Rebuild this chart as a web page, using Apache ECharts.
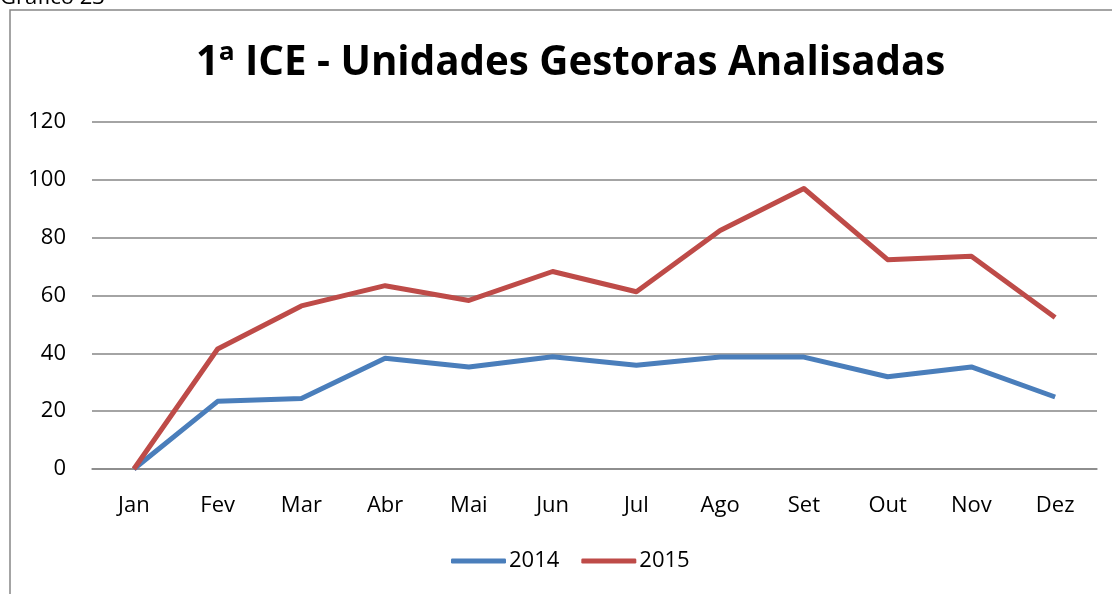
<!DOCTYPE html>
<html>
<head>
<meta charset="utf-8">
<script src="https://cdn.jsdelivr.net/npm/echarts@6/dist/echarts.min.js"></script>
<style>
  html, body { margin: 0; padding: 0; background: #fff; }
  #chart { width: 1112px; height: 594px; }
</style>
</head>
<body>
<div id="chart"></div>
<script>
// dados
var meses = ["Jan", "Fev", "Mar", "Abr", "Mai", "Jun", "Jul", "Ago", "Set", "Out", "Nov", "Dez"];
var valores2014 = [0, 23.4, 24.4, 38.3, 35.3, 38.8, 35.9, 38.7, 38.7, 31.9, 35.3, 24.9];
var valores2015 = [0, 41.5, 56.4, 63.4, 58.3, 68.3, 61.3, 82.5, 97, 72.4, 73.6, 52.4];
var ticksY = [0, 20, 40, 60, 80, 100, 120];

var fonte = "'Open Sans', 'Noto Sans', sans-serif";

var myChart = echarts.init(document.getElementById("chart"));
myChart.setOption({
  animation: false,
  color: ["#4A7EBB", "#BE4B48"],
  title: {
    text: "1ª ICE - Unidades Gestoras Analisadas",
    left: 191,
    top: 39,
    textStyle: { fontFamily: fonte, fontSize: 40.3, fontWeight: "bold", color: "#000" }
  },
  graphic: [
    {
      // borda da área do gráfico (sai pela direita e por baixo)
      type: "rect",
      shape: { x: 10, y: 10, width: 1120, height: 600 },
      style: { fill: "none", stroke: "#868686", lineWidth: 1.5 },
      silent: true
    },
    {
      type: "text",
      left: 0,
      top: -13,
      style: { text: "Gráfico 23", fontFamily: fonte, fontSize: 22, fill: "#000" }
    }
  ],
  legend: {
    bottom: 17,
    left: 446,
    icon: "roundRect",
    itemWidth: 55,
    itemHeight: 5,
    itemGap: 22,
    textStyle: { fontFamily: fonte, fontSize: 22, color: "#000", padding: [0, 0, 0, -2] },
    data: ["2014", "2015"]
  },
  grid: { left: 92, right: 15, top: 122, bottom: 125 },
  xAxis: {
    type: "category",
    data: meses,
    boundaryGap: true,
    axisTick: { show: false },
    axisLine: { lineStyle: { color: "#868686", width: 1.5 } },
    axisLabel: { fontFamily: fonte, fontSize: 22, color: "#000", margin: 26 }
  },
  yAxis: {
    type: "value",
    min: ticksY[0],
    max: ticksY[ticksY.length - 1],
    interval: 20,
    axisLine: { show: false },
    axisTick: { show: false },
    splitLine: { lineStyle: { color: "#868686", width: 1.5 } },
    axisLabel: { fontFamily: fonte, fontSize: 22, color: "#000", margin: 26 }
  },
  series: [
    {
      name: "2014",
      type: "line",
      data: valores2014,
      symbol: "none",
      lineStyle: { width: 5, join: "round" }
    },
    {
      name: "2015",
      type: "line",
      data: valores2015,
      symbol: "none",
      lineStyle: { width: 5, join: "round" }
    }
  ]
});
</script>
</body>
</html>
